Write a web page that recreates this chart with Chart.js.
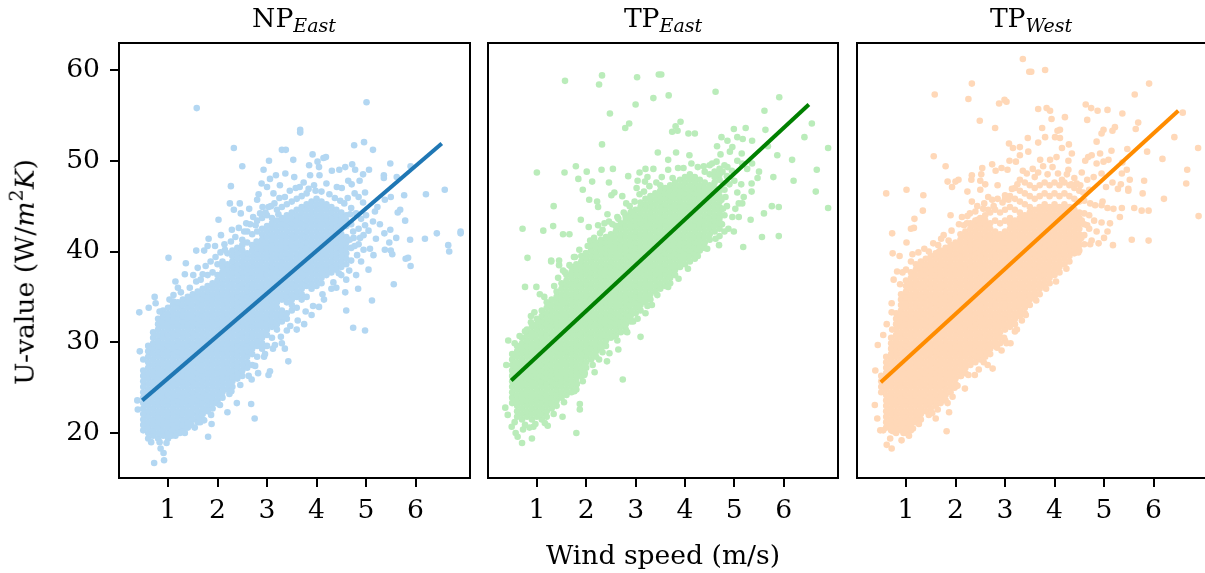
<!DOCTYPE html>
<html>
<head>
<meta charset="utf-8">
<script src="https://cdn.jsdelivr.net/npm/chart.js@4"></script>
<style>
  html, body { margin: 0; background: #fff; overflow: hidden; }
  #page { position: relative; width: 1205px; height: 573px; overflow: hidden; font-family: 'DejaVu Serif', serif; color: #000; }
  canvas { position: absolute; top: 0; }
  .label { position: absolute; font-size: 26.6px; line-height: 1; white-space: nowrap; transform: translate(-50%, -50%); }
  .label sub { font-size: 19px; font-style: italic; line-height: 0; vertical-align: -5px; }
  .label sup { font-size: 19px; line-height: 0; vertical-align: 11px; }
</style>
</head>
<body>
<div id="page">
  <canvas id="npEast" width="480" height="573" style="left:0"></canvas>
  <canvas id="tpEast" width="368" height="573" style="left:480px"></canvas>
  <canvas id="tpWest" width="369" height="573" style="left:849px"></canvas>
  <div class="label" style="left:294px;top:18px">NP<sub>East</sub></div>
  <div class="label" style="left:663px;top:18px">TP<sub>East</sub></div>
  <div class="label" style="left:1031px;top:18px">TP<sub>West</sub></div>
  <div class="label" style="left:663px;top:555px">Wind speed (m/s)</div>
  <div class="label" style="left:25px;top:272px;transform:translate(-50%,-50%) rotate(-90deg)">U-value (W/<i>m</i><sup>2</sup><i>K</i>)</div>
</div>
<script>
// tick labels
const speedTicks = [1, 2, 3, 4, 5, 6];
const uTicks = [20, 30, 40, 50, 60];

const npEastFitX = [0.48, 6.53];
const npEastFitY = [23.6, 51.9];
const tpEastFitX = [0.48, 6.51];
const tpEastFitY = [25.8, 56.2];
const tpWestFitX = [0.49, 6.5];
const tpWestFitY = [25.6, 55.5];

// dense part of each cloud: wind speed columns and the U-values read in each column
const npEastSpeed = [0.5,0.6,0.7,0.8,0.9,1,1.1,1.2,1.3,1.4,1.5,1.6,1.7,1.8,1.9,2,2.1,2.2,2.3,2.4,2.5,2.6,2.7,2.8,2.9,3,3.1,3.2,3.3,3.4,3.5,3.6,3.7,3.8,3.9,4,4.1,4.2,4.3,4.4,4.5,4.6];
const npEastU = [
[20.3,20.9,21.5,22.1,22.7,23.3,23.9,24.5,25.1,25.7,26.3,26.9,28.1],
[19.4,20,20.6,21.2,21.8,22.4,23,23.6,24.2,24.8,25.4,26,26.6,27.2,27.8,28.4,29,29.6],
[19.7,20.3,20.9,21.5,22.1,22.7,23.3,23.9,24.5,25.1,25.7,26.3,26.9,27.5,28.1,28.7,29.3,29.9,30.5,31.1],
[19.4,20,20.6,21.2,21.8,22.4,23,23.6,24.2,24.8,25.4,26,26.6,27.2,27.8,28.4,29,29.6,30.2,30.8,31.4,32,32.6],
[19.7,20.3,20.9,21.5,22.1,22.7,23.3,23.9,24.5,25.1,25.7,26.3,26.9,27.5,28.1,28.7,29.3,29.9,30.5,31.1,31.7,32.3,32.9,33.5],
[19.4,20,20.6,21.2,21.8,22.4,23,23.6,24.2,24.8,25.4,26,26.6,27.2,27.8,28.4,29,29.6,30.2,30.8,31.4,32,32.6,33.2,33.8],
[20.3,20.9,21.5,22.1,22.7,23.3,23.9,24.5,25.1,25.7,26.3,26.9,27.5,28.1,28.7,29.3,29.9,30.5,31.1,31.7,32.3,32.9,33.5,34.1],
[20,20.6,21.2,21.8,22.4,23,23.6,24.2,24.8,25.4,26,26.6,27.2,27.8,28.4,29,29.6,30.2,30.8,31.4,32,32.6,33.2,33.8,34.4],
[20.3,20.9,21.5,22.1,22.7,23.3,23.9,24.5,25.1,25.7,26.3,26.9,27.5,28.1,28.7,29.3,29.9,30.5,31.1,31.7,32.3,32.9,33.5,34.1,34.7],
[20.6,21.2,21.8,22.4,23,23.6,24.2,24.8,25.4,26,26.6,27.2,27.8,28.4,29,29.6,30.2,30.8,31.4,32,32.6,33.2,33.8,34.4,35],
[21.5,22.1,22.7,23.3,23.9,24.5,25.1,25.7,26.3,26.9,27.5,28.1,28.7,29.3,29.9,30.5,31.1,31.7,32.3,32.9,33.5,34.1,34.7,35.3],
[21.2,21.8,22.4,23,23.6,24.2,24.8,25.4,26,26.6,27.2,27.8,28.4,29,29.6,30.2,30.8,31.4,32,32.6,33.2,33.8,34.4,35,35.6],
[21.5,22.1,22.7,23.3,23.9,24.5,25.1,25.7,26.3,26.9,27.5,28.1,28.7,29.3,29.9,30.5,31.1,31.7,32.3,32.9,33.5,34.1,34.7,35.3,35.9],
[22.4,23,23.6,24.2,24.8,25.4,26,26.6,27.2,27.8,28.4,29,29.6,30.2,30.8,31.4,32,32.6,33.2,33.8,34.4,35,35.6,36.2,37.4],
[22.7,23.3,23.9,24.5,25.1,25.7,26.3,26.9,27.5,28.1,28.7,29.3,29.9,30.5,31.1,31.7,32.3,32.9,33.5,34.1,34.7,35.3,35.9,36.5,37.7],
[23.6,24.2,24.8,25.4,26,26.6,27.2,27.8,28.4,29,29.6,30.2,30.8,31.4,32,32.6,33.2,33.8,34.4,35,35.6,36.2,36.8,37.4,38.6],
[23.9,24.5,25.1,25.7,26.3,26.9,27.5,28.1,28.7,29.3,29.9,30.5,31.1,31.7,32.3,32.9,33.5,34.1,34.7,35.3,35.9,36.5,37.1,37.7,38.3,38.9],
[24.8,25.4,26,26.6,27.2,27.8,28.4,29,29.6,30.2,30.8,31.4,32,32.6,33.2,33.8,34.4,35,35.6,36.2,36.8,37.4,38,38.6,39.8],
[25.1,25.7,26.3,26.9,27.5,28.1,28.7,29.3,29.9,30.5,31.1,31.7,32.3,32.9,33.5,34.1,34.7,35.3,35.9,36.5,37.1,37.7,38.3,38.9,39.5,40.1],
[26,26.6,27.2,27.8,28.4,29,29.6,30.2,30.8,31.4,32,32.6,33.2,33.8,34.4,35,35.6,36.2,36.8,37.4,38,38.6,39.2,39.8,40.4],
[26.3,26.9,27.5,28.1,28.7,29.3,29.9,30.5,31.1,31.7,32.3,32.9,33.5,34.1,34.7,35.3,35.9,36.5,37.1,37.7,38.3,38.9,39.5,40.1,40.7,41.3],
[27.2,27.8,28.4,29,29.6,30.2,30.8,31.4,32,32.6,33.2,33.8,34.4,35,35.6,36.2,36.8,37.4,38,38.6,39.2,39.8,41,42.2],
[27.5,28.7,29.3,29.9,30.5,31.1,31.7,32.3,32.9,33.5,34.1,34.7,35.3,35.9,36.5,37.1,37.7,38.3,38.9,39.5,40.1,40.7,41.9],
[28.4,29.6,30.2,30.8,31.4,32,32.6,33.2,33.8,34.4,35,35.6,36.2,36.8,37.4,38,38.6,39.2,39.8,40.4,41,42.2,43.4],
[29.3,29.9,30.5,31.1,31.7,32.3,32.9,33.5,34.1,34.7,35.3,35.9,36.5,37.1,37.7,38.3,38.9,39.5,40.1,40.7,41.3,41.9,42.5,43.7],
[29.6,30.8,31.4,32,32.6,33.2,33.8,34.4,35,35.6,36.2,36.8,37.4,38,38.6,39.2,39.8,40.4,41,41.6,42.2,42.8,44],
[30.5,31.7,32.3,32.9,33.5,34.1,34.7,35.3,35.9,36.5,37.1,37.7,38.3,38.9,39.5,40.1,40.7,41.3,41.9,42.5,43.1,43.7],
[31.4,32,32.6,33.2,33.8,34.4,35,35.6,36.2,36.8,37.4,38,38.6,39.2,39.8,40.4,41,41.6,42.2,42.8,43.4,44.6],
[32.3,32.9,33.5,34.7,35.3,35.9,36.5,37.1,37.7,38.3,38.9,39.5,40.1,40.7,41.3,41.9,42.5,43.1,43.7,44.9],
[32.6,33.2,34.4,35,35.6,36.2,36.8,37.4,38,38.6,39.2,39.8,40.4,41,41.6,42.2,42.8,43.4,44,45.2],
[33.5,34.1,34.7,35.3,35.9,36.5,37.1,37.7,38.3,38.9,39.5,40.1,40.7,41.3,41.9,42.5,43.1,43.7,44.3,45.5],
[33.8,35,35.6,36.2,36.8,37.4,38,38.6,39.2,39.8,40.4,41,41.6,42.2,42.8,43.4,44,44.6,45.8],
[34.7,35.3,35.9,36.5,37.1,37.7,38.3,38.9,39.5,40.1,40.7,41.3,41.9,42.5,43.1,43.7,44.3,44.9,46.1],
[35,36.2,36.8,37.4,38,38.6,39.2,39.8,40.4,41,41.6,42.2,42.8,43.4,44,44.6,45.2,46.4],
[35.9,36.5,37.1,37.7,38.3,38.9,39.5,40.1,40.7,41.3,41.9,42.5,43.1,43.7,44.3,44.9,45.5],
[36.2,36.8,37.4,38,38.6,39.2,39.8,40.4,41,41.6,42.2,42.8,43.4,44,44.6,45.2,45.8],
[36.5,37.1,37.7,38.3,38.9,39.5,40.1,40.7,41.3,41.9,42.5,43.1,43.7,44.3,44.9,45.5],
[37.4,38,38.6,39.2,39.8,40.4,41,41.6,42.2,42.8,43.4,44,44.6,45.2],
[37.7,38.3,38.9,39.5,40.1,40.7,41.3,41.9,42.5,43.1,43.7,44.3,44.9],
[38,38.6,39.2,39.8,40.4,41,41.6,42.2,42.8,43.4,44,44.6],
[38.3,38.9,39.5,40.1,40.7,41.3,41.9,42.5,43.1,43.7,44.3],
[38.6,39.2,39.8,40.4,41,41.6,42.8,43.4,44]
];
// scattered points around the cloud, read one by one
const npEastOuter = [[1.58,55.8],[2.33,51.4],[2.5,49.4],[2.27,47.2],[3.3,51.2],[3.38,51.2],[3.04,50],[2.93,49],[3.37,48.6],[3.18,48.4],[3.06,48],[2.89,47.5],[3,47.1],[3.26,47.3],[2.83,46.3],[3.13,46.4],[2.25,45.3],[2.45,45.3],[2.33,44.6],[2.02,43.5],[2.8,45.7],[2.91,44.9],[3.03,44.9],[2.64,44.7],[3.23,44.1],[2.47,44.2],[2.72,43.8],[2.29,42.4],[2.07,41.8],[1.82,41.4],[1.95,40.6],[1.8,40.6],[1.57,40.1],[1.73,40.1],[1.01,39.3],[2.15,40.2],[2.54,42.2],[2.79,41.1],[5.01,56.45],[3.67,53.4],[3.67,53.1],[4.96,52.05],[4.76,51.7],[5.14,51.2],[3.92,50.7],[3.53,50.1],[4.19,50.4],[4.14,50.3],[3.85,49.5],[4.02,49.9],[4.05,49.3],[4.31,48.9],[4.46,49],[4.58,49.3],[4.72,49.6],[4.78,49],[5.06,49],[5.49,49.7],[5.9,49.4],[4.94,48.5],[5.36,48.4],[5.36,48.1],[5.62,48.2],[3.55,48.2],[3.87,48.4],[4.06,48.4],[4.64,47.8],[4.87,47.8],[4.71,47.4],[3.95,47.3],[4.2,47.5],[4.41,47.1],[4.51,47],[6.59,46.8],[6.21,46.3],[5.77,46.2],[4.77,46.4],[4.98,46.5],[4.85,46],[5.5,46],[5.38,45.7],[4.94,45.4],[5.23,44.9],[5.69,44.6],[5.64,44.3],[5.18,44.4],[5.14,43.3],[5.79,43.4],[5.28,43],[4.98,42.9],[5.49,42.4],[5.37,42],[5.2,41.4],[5.61,41.5],[5.47,41],[5.89,41.3],[6.19,41.4],[6.43,42],[6.91,42.2],[6.91,42],[6.66,40.7],[6.68,40],[5.38,40.2],[5.53,39.7],[5.08,40.3],[5.15,39.6],[5.8,39.2],[4.98,31.3],[4.74,31.6],[5.56,36.4],[5.85,39.3],[5.9,38.4],[4.6,33.5],[4.58,35.5],[5.12,34.6],[4.84,35.9],[5.5,40.1],[4.7,44.8],[4.8,44.2],[4.9,43.6],[5,44],[4.7,43],[4.85,42.5],[4.95,41.8],[5.05,42.3],[4.75,41.5],[4.7,40.4],[4.85,40.8],[4.95,40.2],[4.7,39],[4.9,38.9],[5.05,38],[4.5,37.4],[4.6,36.9],[4.8,37.4],[4.3,35.9],[4.4,36],[4.15,34.7],[4.05,33.9],[3.9,33],[3.75,32],[3.6,31.4],[0.42,33.3],[0.61,33.8],[0.75,34.3],[0.73,35],[0.43,29],[0.38,23.6],[0.39,22.6],[0.72,16.7],[0.92,17],[0.91,17.8],[0.85,18.3],[1.81,19.6],[1.88,21],[1.65,21.2],[1.54,20.6],[1.24,20],[1.07,19.7],[2.2,22.3],[2.39,23.3],[2.68,23.2],[2.75,21.6],[2.28,24.6],[2.69,25.9],[3.06,26.8],[3.03,26.4],[2.82,26.6],[2.94,28.4],[3.36,29.3],[3.43,27.9],[3.16,29.7],[3.3,29.9],[3.4,31.3],[1.98,23.3],[1.78,22.5],[1.11,35.2],[1.11,34.5],[1.15,36.7],[1.34,37.5],[1.51,37.4],[1.36,38.7],[1.2,36],[1.6,38.2],[1.7,37.5]];
// loose edge of the NP cloud
const npEastFringe = [[0.83,33.4],[1.03,34.7],[1.26,35.5],[1.44,36],[1.57,36.7],[1.66,36.9],[1.76,38.4],[1.86,38.9],[1.96,39.4],[2.06,39.9],[2.14,40.8],[2.27,41.1],[2.36,41.6],[2.43,42.6],[2.58,43.1],[2.66,43],[2.77,42.9],[2.86,44.2],[2.97,44.3],[3.08,45],[3.15,45.3],[3.25,45.9],[3.36,46],[3.46,46.7],[3.58,47],[3.66,47.1],[3.74,47.6],[3.84,46.9],[3.98,46.7],[4.1,46.6],[4.26,46.3],[4.37,45.9],[4.48,45.6],[4.56,45.3],[4.63,45.9],[4.68,44.1],[4.74,42.2],[4.67,41.3],[4.77,40.6],[4.88,41.5],[4.82,39.6],[4.66,37.9],[4.45,37.6],[4.34,36.6],[4.12,35.3],[3.93,34],[3.78,33.4],[3.62,32.4],[3.47,31.8],[3.28,30.6],[3.12,29.3],[2.96,28.7],[2.76,27.4],[2.63,26.3],[2.46,25.3],[2.24,24.3],[2.05,23.1],[1.87,22],[1.73,21.4],[1.47,20.9],[1.34,20],[1.15,19.7],[0.97,18.9],[0.83,19],[0.66,19]];

const tpEastSpeed = [0.5,0.6,0.7,0.8,0.9,1,1.1,1.2,1.3,1.4,1.5,1.6,1.7,1.8,1.9,2,2.1,2.2,2.3,2.4,2.5,2.6,2.7,2.8,2.9,3,3.1,3.2,3.3,3.4,3.5,3.6,3.7,3.8,3.9,4,4.1,4.2,4.3,4.4,4.5,4.6,4.7];
const tpEastU = [
[23.3,23.9,24.5,25.1,25.7,26.3,26.9,27.5,28.1,28.7],
[21.8,22.4,23,23.6,24.2,24.8,25.4,26,26.6,27.2,27.8,28.4,29,29.6],
[21.5,22.1,22.7,23.3,23.9,24.5,25.1,25.7,26.3,26.9,27.5,28.1,28.7,29.3,29.9,30.5],
[21.8,22.4,23,23.6,24.2,24.8,25.4,26,26.6,27.2,27.8,28.4,29,29.6,30.2,30.8,31.4],
[21.5,22.1,22.7,23.3,23.9,24.5,25.1,25.7,26.3,26.9,27.5,28.1,28.7,29.3,29.9,30.5,31.1,31.7],
[21.8,22.4,23,23.6,24.2,24.8,25.4,26,26.6,27.2,27.8,28.4,29,29.6,30.2,30.8,31.4,32,32.6],
[21.5,22.1,22.7,23.3,23.9,24.5,25.1,25.7,26.3,26.9,27.5,28.1,28.7,29.3,29.9,30.5,31.1,31.7,32.3,32.9,33.5],
[21.8,22.4,23,23.6,24.2,24.8,25.4,26,26.6,27.2,27.8,28.4,29,29.6,30.2,30.8,31.4,32,32.6,33.2,33.8,34.4],
[22.7,23.3,23.9,24.5,25.1,25.7,26.3,26.9,27.5,28.1,28.7,29.3,29.9,30.5,31.1,31.7,32.3,32.9,33.5,34.1,34.7],
[23,23.6,24.2,24.8,25.4,26,26.6,27.2,27.8,28.4,29,29.6,30.2,30.8,31.4,32,32.6,33.2,33.8,34.4,35,35.6],
[23.9,24.5,25.1,25.7,26.3,26.9,27.5,28.1,28.7,29.3,29.9,30.5,31.1,31.7,32.3,32.9,33.5,34.1,34.7,35.3,35.9,36.5],
[24.2,24.8,25.4,26,26.6,27.2,27.8,28.4,29,29.6,30.2,30.8,31.4,32,32.6,33.2,33.8,34.4,35,35.6,36.2,36.8,37.4],
[24.5,25.1,25.7,26.3,26.9,27.5,28.1,28.7,29.3,29.9,30.5,31.1,31.7,32.3,32.9,33.5,34.1,34.7,35.3,35.9,36.5,37.1,37.7,38.3],
[25.4,26,26.6,27.2,27.8,28.4,29,29.6,30.2,30.8,31.4,32,32.6,33.2,33.8,34.4,35,35.6,36.2,36.8,37.4,38,38.6],
[26.3,26.9,27.5,28.1,28.7,29.3,29.9,30.5,31.1,31.7,32.3,32.9,33.5,34.1,34.7,35.3,35.9,36.5,37.1,37.7,38.3,38.9,39.5],
[27.2,27.8,28.4,29,29.6,30.2,30.8,31.4,32,32.6,33.2,33.8,34.4,35,35.6,36.2,36.8,37.4,38,38.6,39.2,39.8],
[28.1,28.7,29.3,29.9,30.5,31.1,31.7,32.3,32.9,33.5,34.1,34.7,35.3,35.9,36.5,37.1,37.7,38.3,38.9,39.5,40.1,40.7],
[28.4,29,29.6,30.2,30.8,31.4,32,32.6,33.2,33.8,34.4,35,35.6,36.2,36.8,37.4,38,38.6,39.2,39.8,40.4,41],
[29.3,29.9,30.5,31.1,31.7,32.3,32.9,33.5,34.1,34.7,35.3,35.9,36.5,37.1,37.7,38.3,38.9,39.5,40.1,40.7,41.3],
[29.6,30.2,30.8,31.4,32,32.6,33.2,33.8,34.4,35,35.6,36.2,36.8,37.4,38,38.6,39.2,39.8,40.4,41,41.6],
[30.5,31.1,31.7,32.3,32.9,33.5,34.1,34.7,35.3,35.9,36.5,37.1,37.7,38.3,38.9,39.5,40.1,40.7,41.3,41.9],
[30.8,31.4,32,32.6,33.2,33.8,34.4,35,35.6,36.2,36.8,37.4,38,38.6,39.2,39.8,40.4,41,41.6,42.2,42.8],
[31.1,31.7,32.3,32.9,33.5,34.1,34.7,35.3,35.9,36.5,37.1,37.7,38.3,38.9,39.5,40.1,40.7,41.3,41.9,42.5,43.1],
[31.4,32,32.6,33.2,33.8,34.4,35,35.6,36.2,36.8,37.4,38,38.6,39.2,39.8,40.4,41,41.6,42.2,42.8,43.4,44],
[32.3,32.9,33.5,34.1,34.7,35.3,35.9,36.5,37.1,37.7,38.3,38.9,39.5,40.1,40.7,41.3,41.9,42.5,43.1,43.7,44.3],
[33.2,33.8,34.4,35,35.6,36.2,36.8,37.4,38,38.6,39.2,39.8,40.4,41,41.6,42.2,42.8,43.4,44,44.6],
[33.5,34.1,34.7,35.3,35.9,36.5,37.1,37.7,38.3,38.9,39.5,40.1,40.7,41.3,41.9,42.5,43.1,43.7,44.3,44.9],
[34.4,35,35.6,36.2,36.8,37.4,38,38.6,39.2,39.8,40.4,41,41.6,42.2,42.8,43.4,44,44.6,45.2,45.8],
[34.7,35.3,35.9,36.5,37.1,37.7,38.3,38.9,39.5,40.1,40.7,41.3,41.9,42.5,43.1,43.7,44.3,44.9,45.5,46.1],
[35.6,36.2,36.8,37.4,38,38.6,39.2,39.8,40.4,41,41.6,42.2,42.8,43.4,44,44.6,45.2,45.8,46.4],
[35.9,36.5,37.1,37.7,38.3,38.9,39.5,40.1,40.7,41.3,41.9,42.5,43.1,43.7,44.3,44.9,45.5,46.1,46.7,47.3],
[36.2,36.8,37.4,38,38.6,39.2,39.8,40.4,41,41.6,42.2,42.8,43.4,44,44.6,45.2,45.8,46.4,47],
[36.5,37.1,37.7,38.3,38.9,39.5,40.1,40.7,41.3,41.9,42.5,43.1,43.7,44.3,44.9,45.5,46.1,46.7,47.3],
[37.4,38,38.6,39.2,39.8,40.4,41,41.6,42.2,42.8,43.4,44,44.6,45.2,45.8,46.4,47,47.6],
[38.3,38.9,39.5,40.1,40.7,41.3,41.9,42.5,43.1,43.7,44.3,44.9,45.5,46.1,46.7,47.3,47.9],
[38.6,39.2,39.8,40.4,41,41.6,42.2,42.8,43.4,44,44.6,45.2,45.8,46.4,47,47.6,48.2],
[38.9,39.5,40.1,40.7,41.3,41.9,42.5,43.1,43.7,44.3,44.9,45.5,46.1,46.7,47.3,47.9,48.5],
[39.2,39.8,40.4,41,41.6,42.2,42.8,43.4,44,44.6,45.2,45.8,46.4,47,47.6,48.2],
[40.1,40.7,41.3,41.9,42.5,43.1,43.7,44.3,44.9,45.5,46.1,46.7,47.3,47.9],
[40.4,41,41.6,42.2,42.8,43.4,44,44.6,45.2,45.8,46.4,47,47.6,48.8],
[41.3,41.9,42.5,43.1,43.7,44.3,44.9,45.5,46.1,46.7,47.3,48.5],
[42.2,42.8,43.4,44,44.6,45.2,45.8,46.4,47,47.6,48.2,48.8],
[42.5,43.1,43.7,44.3,44.9,45.5,46.1,46.7,47.9,48.5,49.1]
];
const tpEastOuter = [[1.57,58.8],[2.32,59.4],[2.26,58.4],[3.03,59.2],[3.47,59.5],[3.36,56.9],[3,56.2],[2.48,55.2],[2.87,54.1],[2.79,53.6],[2.32,51.8],[3.45,50.9],[1,48.7],[1.56,48.7],[1.79,49.4],[2.01,48.8],[2.31,49],[2.54,49.1],[1.84,48],[2.12,47.7],[2.46,47.6],[2.85,48.3],[3.08,48.7],[3.2,49.1],[3.36,49.1],[1.93,46.8],[2.57,46.5],[2.51,46.2],[2.73,46.1],[2.06,45.7],[2.22,45.5],[2.24,44.9],[2.81,45.3],[1.34,45],[2.43,44.1],[1.89,43.5],[0.71,42.5],[1.13,42.3],[1.33,42.8],[1.53,41.9],[1.66,41.9],[2.05,42.7],[2.24,42.9],[2.33,42.4],[2.08,41.2],[0.81,39.3],[1.29,39],[1.45,39],[1.77,39.4],[1.99,39.8],[2.2,39.4],[2.46,43.3],[2.6,42.8],[2.63,43.8],[2.8,43.8],[2.92,44.4],[3.02,47],[3.04,47.8],[3.24,48.2],[3.19,47.7],[3.1,45.4],[3.52,59.5],[3.67,57.2],[4.62,57.6],[5.91,57],[5.61,55.5],[6.57,54.1],[6.42,52.6],[6.9,51.4],[3.91,54.3],[3.81,53.8],[3.74,53.2],[3.85,53.3],[4.07,53],[4.2,53],[4.99,53.5],[5.23,53.6],[5.63,53.4],[4.74,52.6],[4.86,52.2],[5.06,52.6],[5.17,52.4],[5.36,52.2],[4.65,51.6],[4.96,51.5],[5.68,51.6],[5.15,50.8],[5.87,50.6],[6.17,50.1],[3.82,50.9],[4.09,50.6],[3.66,50.1],[4.72,50.7],[4.91,51],[6.67,49],[6.2,47.8],[5.79,48.2],[6.65,46.6],[5.35,47.5],[5.47,48.1],[5.35,46.6],[5.19,46],[5.76,45],[5.9,44.9],[5.6,44.2],[5.33,43.5],[6.9,44.8],[5.56,41.6],[5.9,41.7],[5.18,40.5],[4.99,42.2],[4.88,42.5],[5.5,48.8],[5.06,46.5],[5.14,47.4],[5.09,45.3],[5.16,45.3],[5.02,44.7],[5.09,43.8],[4.96,43.8],[4.82,46],[4.69,40.7],[4.55,49.7],[4.86,49.3],[5.06,50],[5.16,49.7],[5.26,49.1],[5.36,49.7],[4.8,49.5],[4.85,48.3],[4.95,48.9],[4.9,47.4],[5,47.8],[4.8,46.8],[4.85,45],[4.8,44],[4.75,43],[4.8,42.2],[4.7,41.7],[0.76,36.1],[0.99,36.1],[1.06,35.3],[0.42,30.2],[0.38,27.5],[0.36,22.8],[0.41,22],[0.49,20.7],[0.57,20],[0.61,19.6],[0.7,18.9],[0.9,19.4],[0.72,20.4],[0.85,20.6],[0.93,20.7],[1.22,20.8],[1.52,21.8],[1.8,20],[1.87,23.2],[1.87,22.6],[1.8,24.8],[1.81,25.4],[1.93,25.7],[2.17,26.7],[1.97,26.6],[1.97,27.3],[2.74,25.9],[2.26,28.1],[2.42,27.9],[2.47,28.8],[2.65,29.2],[3.1,30.6],[2.81,31.2],[2.59,30.7],[2.95,32.3],[3.2,33.2],[3.33,34.1],[0.88,32.9],[0.88,32.2],[0.65,30.7],[1.43,37.1],[1.57,37.7],[1.66,38.5],[1.45,38.5],[1.29,38.9]];
// loose edge of the TP east cloud
const tpEastFringe = [[0.55,29.9],[0.76,31.2],[0.95,33.3],[1.15,35],[1.35,36.2],[1.53,37.9],[1.75,39.4],[1.86,40.2],[2.03,40.6],[2.16,41.5],[2.28,42],[2.37,43.1],[2.53,43],[2.65,43.6],[2.76,44.3],[2.88,45],[2.98,45.5],[3.08,46.3],[3.17,46.6],[3.28,47.2],[3.42,47.6],[3.53,48.2],[3.66,49],[3.75,48.1],[3.86,49.2],[3.97,49.2],[4.13,49.7],[4.26,49.3],[4.38,49.4],[4.5,49.5],[4.64,49.9],[4.76,48.8],[4.78,47.5],[4.74,45.7],[4.77,44.7],[4.72,43.1],[4.62,41.4],[4.45,40.3],[4.26,39.5],[4.06,38.1],[3.87,37],[3.66,36.1],[3.44,35.2],[3.24,34],[3.04,32.6],[2.83,31.1],[2.63,30.2],[2.33,28.9],[2.13,27.5],[1.96,26.4],[1.76,24.6],[1.55,23.4],[1.34,22.1],[1.16,21.1],[0.97,21],[0.76,20.9],[0.55,21.2]];

const tpWestSpeed = [0.5,0.6,0.7,0.8,0.9,1,1.1,1.2,1.3,1.4,1.5,1.6,1.7,1.8,1.9,2,2.1,2.2,2.3,2.4,2.5,2.6,2.7,2.8,2.9,3,3.1,3.2,3.3,3.4,3.5,3.6,3.7,3.8,3.9,4,4.1,4.2,4.3,4.4,4.5];
const tpWestU = [
[24.5,25.1,25.7,26.3],
[20.6,21.2,21.8,22.4,23,23.6,24.2,24.8,25.4,26,26.6,27.2,27.8,28.4],
[20.3,20.9,21.5,22.1,22.7,23.3,23.9,24.5,25.1,25.7,26.3,26.9,27.5,28.1,28.7,29.3,29.9,30.5],
[20,20.6,21.2,21.8,22.4,23,23.6,24.2,24.8,25.4,26,26.6,27.2,27.8,28.4,29,29.6,30.2,30.8,31.4,32,32.6,33.2],
[20.3,20.9,21.5,22.1,22.7,23.3,23.9,24.5,25.1,25.7,26.3,26.9,27.5,28.1,28.7,29.3,29.9,30.5,31.1,31.7,32.3,32.9,33.5,34.1,34.7,35.3],
[20,20.6,21.2,21.8,22.4,23,23.6,24.2,24.8,25.4,26,26.6,27.2,27.8,28.4,29,29.6,30.2,30.8,31.4,32,32.6,33.2,33.8,34.4,35,35.6,36.2,36.8,38],
[20.3,20.9,21.5,22.1,22.7,23.3,23.9,24.5,25.1,25.7,26.3,26.9,27.5,28.1,28.7,29.3,29.9,30.5,31.1,31.7,32.3,32.9,33.5,34.1,34.7,35.3,35.9,36.5,37.1,37.7,38.9],
[21.2,21.8,22.4,23,23.6,24.2,24.8,25.4,26,26.6,27.2,27.8,28.4,29,29.6,30.2,30.8,31.4,32,32.6,33.2,33.8,34.4,35,35.6,36.2,36.8,37.4,38,38.6],
[21.5,22.1,22.7,23.3,23.9,24.5,25.1,25.7,26.3,26.9,27.5,28.1,28.7,29.3,29.9,30.5,31.1,31.7,32.3,32.9,33.5,34.1,34.7,35.3,35.9,36.5,37.1,37.7,38.3,38.9],
[22.4,23,23.6,24.2,24.8,25.4,26,26.6,27.2,27.8,28.4,29,29.6,30.2,30.8,31.4,32,32.6,33.2,33.8,34.4,35,35.6,36.2,36.8,37.4,38,38.6,39.2],
[22.7,23.3,23.9,24.5,25.1,25.7,26.3,26.9,27.5,28.1,28.7,29.3,29.9,30.5,31.1,31.7,32.3,32.9,33.5,34.1,34.7,35.3,35.9,36.5,37.1,37.7,38.3,38.9,39.5],
[23,23.6,24.2,24.8,25.4,26,26.6,27.2,27.8,28.4,29,29.6,30.2,30.8,31.4,32,32.6,33.2,33.8,34.4,35,35.6,36.2,36.8,37.4,38,38.6,39.2,39.8],
[23.3,23.9,24.5,25.1,25.7,26.3,26.9,27.5,28.1,28.7,29.3,29.9,30.5,31.1,31.7,32.3,32.9,33.5,34.1,34.7,35.3,35.9,36.5,37.1,37.7,38.3,38.9,39.5,40.1],
[23.6,24.2,24.8,25.4,26,26.6,27.2,27.8,28.4,29,29.6,30.2,30.8,31.4,32,32.6,33.2,33.8,34.4,35,35.6,36.2,36.8,37.4,38,38.6,39.2,39.8,40.4],
[24.5,25.1,25.7,26.3,26.9,27.5,28.1,28.7,29.3,29.9,30.5,31.1,31.7,32.3,32.9,33.5,34.1,34.7,35.3,35.9,36.5,37.1,37.7,38.3,38.9,39.5,40.1,40.7],
[25.4,26,26.6,27.2,27.8,28.4,29,29.6,30.2,30.8,31.4,32,32.6,33.2,33.8,34.4,35,35.6,36.2,36.8,37.4,38,38.6,39.2,39.8,40.4,41],
[26.3,26.9,27.5,28.1,28.7,29.3,29.9,30.5,31.1,31.7,32.3,32.9,33.5,34.1,34.7,35.3,35.9,36.5,37.1,37.7,38.3,38.9,39.5,40.1,40.7,41.3,41.9],
[26.6,27.2,27.8,28.4,29,29.6,30.2,30.8,31.4,32,32.6,33.2,33.8,34.4,35,35.6,36.2,36.8,37.4,38,38.6,39.2,39.8,40.4,41,41.6,42.2],
[27.5,28.1,28.7,29.3,29.9,30.5,31.1,31.7,32.3,32.9,33.5,34.1,34.7,35.3,35.9,36.5,37.1,37.7,38.3,38.9,39.5,40.1,40.7,41.3,41.9,42.5,43.1],
[27.8,28.4,29,29.6,30.2,30.8,31.4,32,32.6,33.2,33.8,34.4,35,35.6,36.2,36.8,37.4,38,38.6,39.2,39.8,40.4,41,41.6,42.2,42.8,43.4],
[28.1,28.7,29.3,29.9,30.5,31.1,31.7,32.3,32.9,33.5,34.1,34.7,35.3,35.9,36.5,37.1,37.7,38.3,38.9,39.5,40.1,40.7,41.3,41.9,42.5,43.1,43.7],
[28.4,29,29.6,30.2,30.8,31.4,32,32.6,33.2,33.8,34.4,35,35.6,36.2,36.8,37.4,38,38.6,39.2,39.8,40.4,41,41.6,42.2,42.8,43.4,44],
[28.7,29.3,29.9,30.5,31.1,31.7,32.3,32.9,33.5,34.1,34.7,35.3,35.9,36.5,37.1,37.7,38.3,38.9,39.5,40.1,40.7,41.3,41.9,42.5,43.1,44.3],
[29.6,30.2,30.8,31.4,32,32.6,33.2,33.8,34.4,35,35.6,36.2,36.8,37.4,38,38.6,39.2,39.8,40.4,41,41.6,42.2,43.4,44.6],
[29.9,30.5,31.1,31.7,32.3,32.9,33.5,34.1,34.7,35.3,35.9,36.5,37.1,37.7,38.3,38.9,39.5,40.1,40.7,41.3,41.9,43.1,44.3],
[30.2,31.4,32,32.6,33.2,33.8,34.4,35,35.6,36.2,36.8,37.4,38,38.6,39.2,39.8,40.4,41,41.6,42.2,43.4,44.6,45.8],
[31.7,32.3,32.9,33.5,34.1,34.7,35.3,35.9,36.5,37.1,37.7,38.3,38.9,39.5,40.1,40.7,41.3,41.9,42.5,43.1,43.7,44.9,46.1],
[32,32.6,33.2,33.8,34.4,35,35.6,36.2,36.8,37.4,38,38.6,39.2,39.8,40.4,41,41.6,42.2,42.8,43.4,44.6,45.8,47],
[32.9,33.5,34.1,34.7,35.3,35.9,36.5,37.1,37.7,38.3,38.9,39.5,40.1,40.7,41.3,41.9,42.5,43.1,43.7,44.3,45.5,46.7,47.9],
[33.2,33.8,34.4,35,35.6,36.2,36.8,37.4,38,38.6,39.2,39.8,40.4,41,41.6,42.2,42.8,43.4,44,45.2,46.4,47.6],
[34.1,34.7,35.3,35.9,36.5,37.1,37.7,38.3,38.9,39.5,40.1,40.7,41.3,41.9,42.5,43.1,43.7,44.3,44.9,46.1,47.3],
[35,35.6,36.2,36.8,37.4,38,38.6,39.2,39.8,40.4,41,41.6,42.2,42.8,43.4,44,44.6,45.8,47,48.2],
[35.3,35.9,36.5,37.1,37.7,38.3,38.9,39.5,40.1,40.7,41.3,41.9,42.5,43.1,43.7,44.3,44.9,46.1,47.3],
[36.2,36.8,37.4,38,38.6,39.2,39.8,40.4,41,41.6,42.2,42.8,43.4,44,44.6,45.2,46.4,47.6],
[36.5,37.1,37.7,38.3,38.9,39.5,40.1,40.7,41.3,41.9,42.5,43.1,43.7,44.3,44.9,46.1,47.3],
[37.4,38,38.6,39.2,39.8,40.4,41,41.6,42.2,42.8,43.4,44,44.6,45.2,46.4,47.6],
[37.7,38.3,38.9,39.5,40.1,40.7,41.3,41.9,42.5,43.1,43.7,44.3,44.9,46.1,47.3],
[38.6,39.2,39.8,40.4,41,41.6,42.2,42.8,43.4,44,44.6,45.2,46.4,47.6],
[38.9,39.5,40.1,40.7,41.3,41.9,42.5,43.1,43.7,44.3,44.9,46.1,47.3],
[39.8,40.4,41,41.6,42.2,42.8,43.4,44,44.6,45.8,47],
[40.1,40.7,41.3,41.9,42.5,43.1,43.7,44.3,45.5,46.7]
];
const tpWestOuter = [[3.36,61.2],[3.49,59.8],[2.33,58.5],[1.58,57.3],[2.26,56.8],[2.88,56.3],[2.99,56.7],[3.03,56.5],[2.49,54.4],[2.8,53.6],[3.46,52.5],[3.08,51.9],[3.16,51.4],[3.3,51.5],[1.56,50.5],[1.8,49.4],[3.47,51],[3.3,50.6],[3.22,49.9],[3.09,50],[2.74,49.6],[2.54,49.2],[2.81,48.9],[2.93,49.2],[3.05,49],[2.33,48.4],[2.52,48.5],[2.32,47.9],[2.5,47.8],[2.06,47.9],[2,47.7],[1.84,47.7],[1.93,47.1],[2.24,46.6],[2.5,46.8],[2.6,47.4],[0.6,46.4],[1.01,46.8],[1.35,46.2],[1.34,44.5],[2.33,45.5],[2.44,45],[2.66,46],[2.58,45.3],[2.77,45],[2.85,47.3],[2.85,45.8],[3,46.2],[3.07,45.7],[1.9,44],[2.13,43.8],[2.24,43.9],[2.4,44.4],[1.17,43.6],[1.1,42.5],[1.16,42.6],[0.72,42],[1.01,41],[0.73,39.8],[0.87,39.5],[1.13,39.7],[1.46,40],[1.71,41.4],[1.65,40.7],[1.67,40],[1.86,41.2],[2.02,40.7],[2.23,43.1],[3.81,60],[3.53,59.8],[5.91,58.5],[5.62,57.3],[4.63,56.2],[4.74,55.8],[4.87,55.5],[5.07,55.6],[6.59,55.3],[5.37,55.2],[3.67,55.7],[3.84,55.8],[3.91,55.5],[3.94,54.6],[4.21,54.8],[4.66,54.5],[5.69,54.2],[5.64,53.5],[3.75,53.6],[4.11,53.4],[4.06,53.3],[5.22,53.7],[5.17,53.3],[4.99,53.4],[4.95,53],[3.81,52.6],[4.01,52.6],[4.11,52.5],[3.67,52],[4.85,52.1],[4.29,51.8],[4.15,51.4],[4.35,50.8],[6.42,52.6],[6.9,51.4],[5.47,51.3],[5.87,51],[5.15,51.1],[6.18,50.2],[6.68,49],[6.66,47.5],[5.81,47.8],[5.78,46.4],[6.21,45.8],[5.52,47.9],[5.46,49],[5.37,49.8],[5.36,48.6],[5.34,47.4],[5.28,46.9],[5.49,46.9],[5.49,46.7],[5.17,47.6],[5.04,47.1],[5.61,44.8],[5.76,44.5],[5.9,44.5],[5.36,44.8],[5.32,43.8],[5.19,44.7],[5.07,44.8],[5.12,43.1],[5.07,42.2],[4.95,43.2],[5,41.5],[4.89,40.9],[5.18,40.7],[5.56,41.3],[5.9,41.2],[6.91,43.9],[4.68,50.4],[4.75,50.6],[4.92,50.8],[5.09,50.1],[4.62,50],[4.99,49.9],[4.85,49.7],[4.28,50],[4.04,50.4],[3.91,50.1],[3.71,50.1],[4.28,49],[4.55,48.7],[4.79,48.2],[4.95,48.6],[4.45,47.5],[4.72,45.3],[4.82,45.1],[4.97,45.5],[4.95,45.1],[4.6,45.6],[4.6,44.2],[4.6,43],[4.6,41.8],[4.6,40.8],[4.7,46.8],[4.7,44],[4.7,42.5],[4.75,41.2],[4.8,43.4],[4.85,42.2],[0.82,37.8],[0.93,37.7],[0.75,36.9],[0.88,36.4],[0.71,34.3],[0.71,33.3],[0.61,32],[0.72,31.4],[0.54,30.8],[0.43,29.7],[0.38,26.9],[0.37,23.1],[0.42,21.6],[0.61,18.7],[0.71,18.3],[0.91,19.2],[0.68,19.4],[0.48,20.3],[0.54,20.3],[0.74,20.2],[0.95,20],[1.14,20.5],[1.23,21.4],[1.82,20.2],[1.6,21.6],[1.53,22.2],[1.87,22.3],[1.94,24],[1.98,25],[2.19,24.9],[2.11,26.3],[2.39,26.4],[2.47,27],[2.65,27.5],[2.75,27.1],[2.93,29.1],[3.11,29.9],[2.98,30.5],[2.85,31.2],[3.2,31.2],[3.34,32.4],[2.43,28.4],[2.63,28.8]];
// loose edge of the TP west cloud
const tpWestFringe = [[1.25,39.9],[1.37,40.3],[1.55,40.9],[1.76,41.8],[1.92,42.3],[2.07,43],[2.17,42.9],[2.29,44.2],[2.45,43.5],[2.56,44.7],[2.66,44.6],[2.74,45.7],[2.95,45.4],[3.14,46.9],[3.25,47.4],[3.36,48.9],[3.44,48.6],[3.56,49.1],[3.67,48.7],[3.77,49.4],[3.86,48.5],[3.96,49.3],[4.07,48.6],[4.15,47.9],[4.25,48.5],[4.34,47.4],[4.4,48.1],[4.52,47.3],[4.58,46.5],[4.66,47.9],[4.55,43.4],[4.66,42.9],[4.54,41.5],[4.72,40.8],[4.48,39.9],[4.24,38.1],[4.03,36.7],[3.83,35.9],[3.63,34.6],[3.42,33],[3.24,31.4],[3.03,29.9],[2.84,29.4],[2.57,27.8],[2.26,26.4],[2.04,25.2],[1.84,23.3],[1.64,22.6],[1.46,22],[1.26,21],[1.06,19.7]];

// axis window shared by the panels
const speedMin = 0.01, speedMax = 7.1;
const uMin = 15.05, uMax = 62.97;

function cloud(speeds, values, outer, fringe) {
  const pts = [];
  speeds.forEach((x, i) => values[i].forEach(y => pts.push({ x, y })));
  outer.concat(fringe).forEach(p => pts.push({ x: p[0], y: p[1] }));
  return pts;
}

// top and right spines
const frame = {
  id: 'frame',
  afterDatasetsDraw(chart) {
    const a = chart.chartArea, c = chart.ctx;
    c.save();
    c.strokeStyle = '#000';
    c.lineWidth = 2;
    c.strokeRect(a.left, a.top, a.right - a.left, a.bottom - a.top);
    c.restore();
  }
};

function panel(id, points, fitX, fitY, dotColor, lineColor, leftWidth, showU) {
  new Chart(document.getElementById(id), {
    type: 'scatter',
    data: {
      datasets: [
        {
          type: 'line',
          data: fitX.map((x, i) => ({ x, y: fitY[i] })),
          borderColor: lineColor,
          borderWidth: 4,
          pointRadius: 0,
          fill: false,
          tension: 0
        },
        {
          data: points,
          backgroundColor: dotColor,
          borderWidth: 0,
          pointRadius: 3.3
        }
      ]
    },
    options: {
      responsive: false,
      animation: false,
      layout: { padding: { top: 43, right: 10, left: 0, bottom: 0 } },
      plugins: { legend: { display: false }, tooltip: { enabled: false } },
      scales: {
        x: {
          type: 'linear',
          min: speedMin,
          max: speedMax,
          afterBuildTicks: s => { s.ticks = speedTicks.map(value => ({ value })); },
          afterFit: s => { s.height = 95; },
          border: { color: '#000', width: 2 },
          grid: { drawOnChartArea: false, color: '#000', lineWidth: 2, tickLength: 9 },
          ticks: { color: '#000', maxRotation: 0, padding: 8, font: { family: "'DejaVu Serif'", size: 26.6 } }
        },
        y: {
          type: 'linear',
          min: uMin,
          max: uMax,
          afterBuildTicks: s => { s.ticks = showU ? uTicks.map(value => ({ value })) : []; },
          afterFit: s => { s.width = leftWidth; },
          border: { color: '#000', width: 2 },
          grid: { drawOnChartArea: false, color: '#000', lineWidth: 2, tickLength: 9 },
          ticks: { color: '#000', padding: 10, font: { family: "'DejaVu Serif'", size: 26.6 } }
        }
      }
    },
    plugins: [frame]
  });
}

panel('npEast', cloud(npEastSpeed, npEastU, npEastOuter, npEastFringe), npEastFitX, npEastFitY, '#b3d7f2', '#1f77b4', 119, true);
panel('tpEast', cloud(tpEastSpeed, tpEastU, tpEastOuter, tpEastFringe), tpEastFitX, tpEastFitY, '#baecba', '#008000', 8, false);
panel('tpWest', cloud(tpWestSpeed, tpWestU, tpWestOuter, tpWestFringe), tpWestFitX, tpWestFitY, '#ffd8b8', '#ff8c00', 8, false);
</script>
</body>
</html>
